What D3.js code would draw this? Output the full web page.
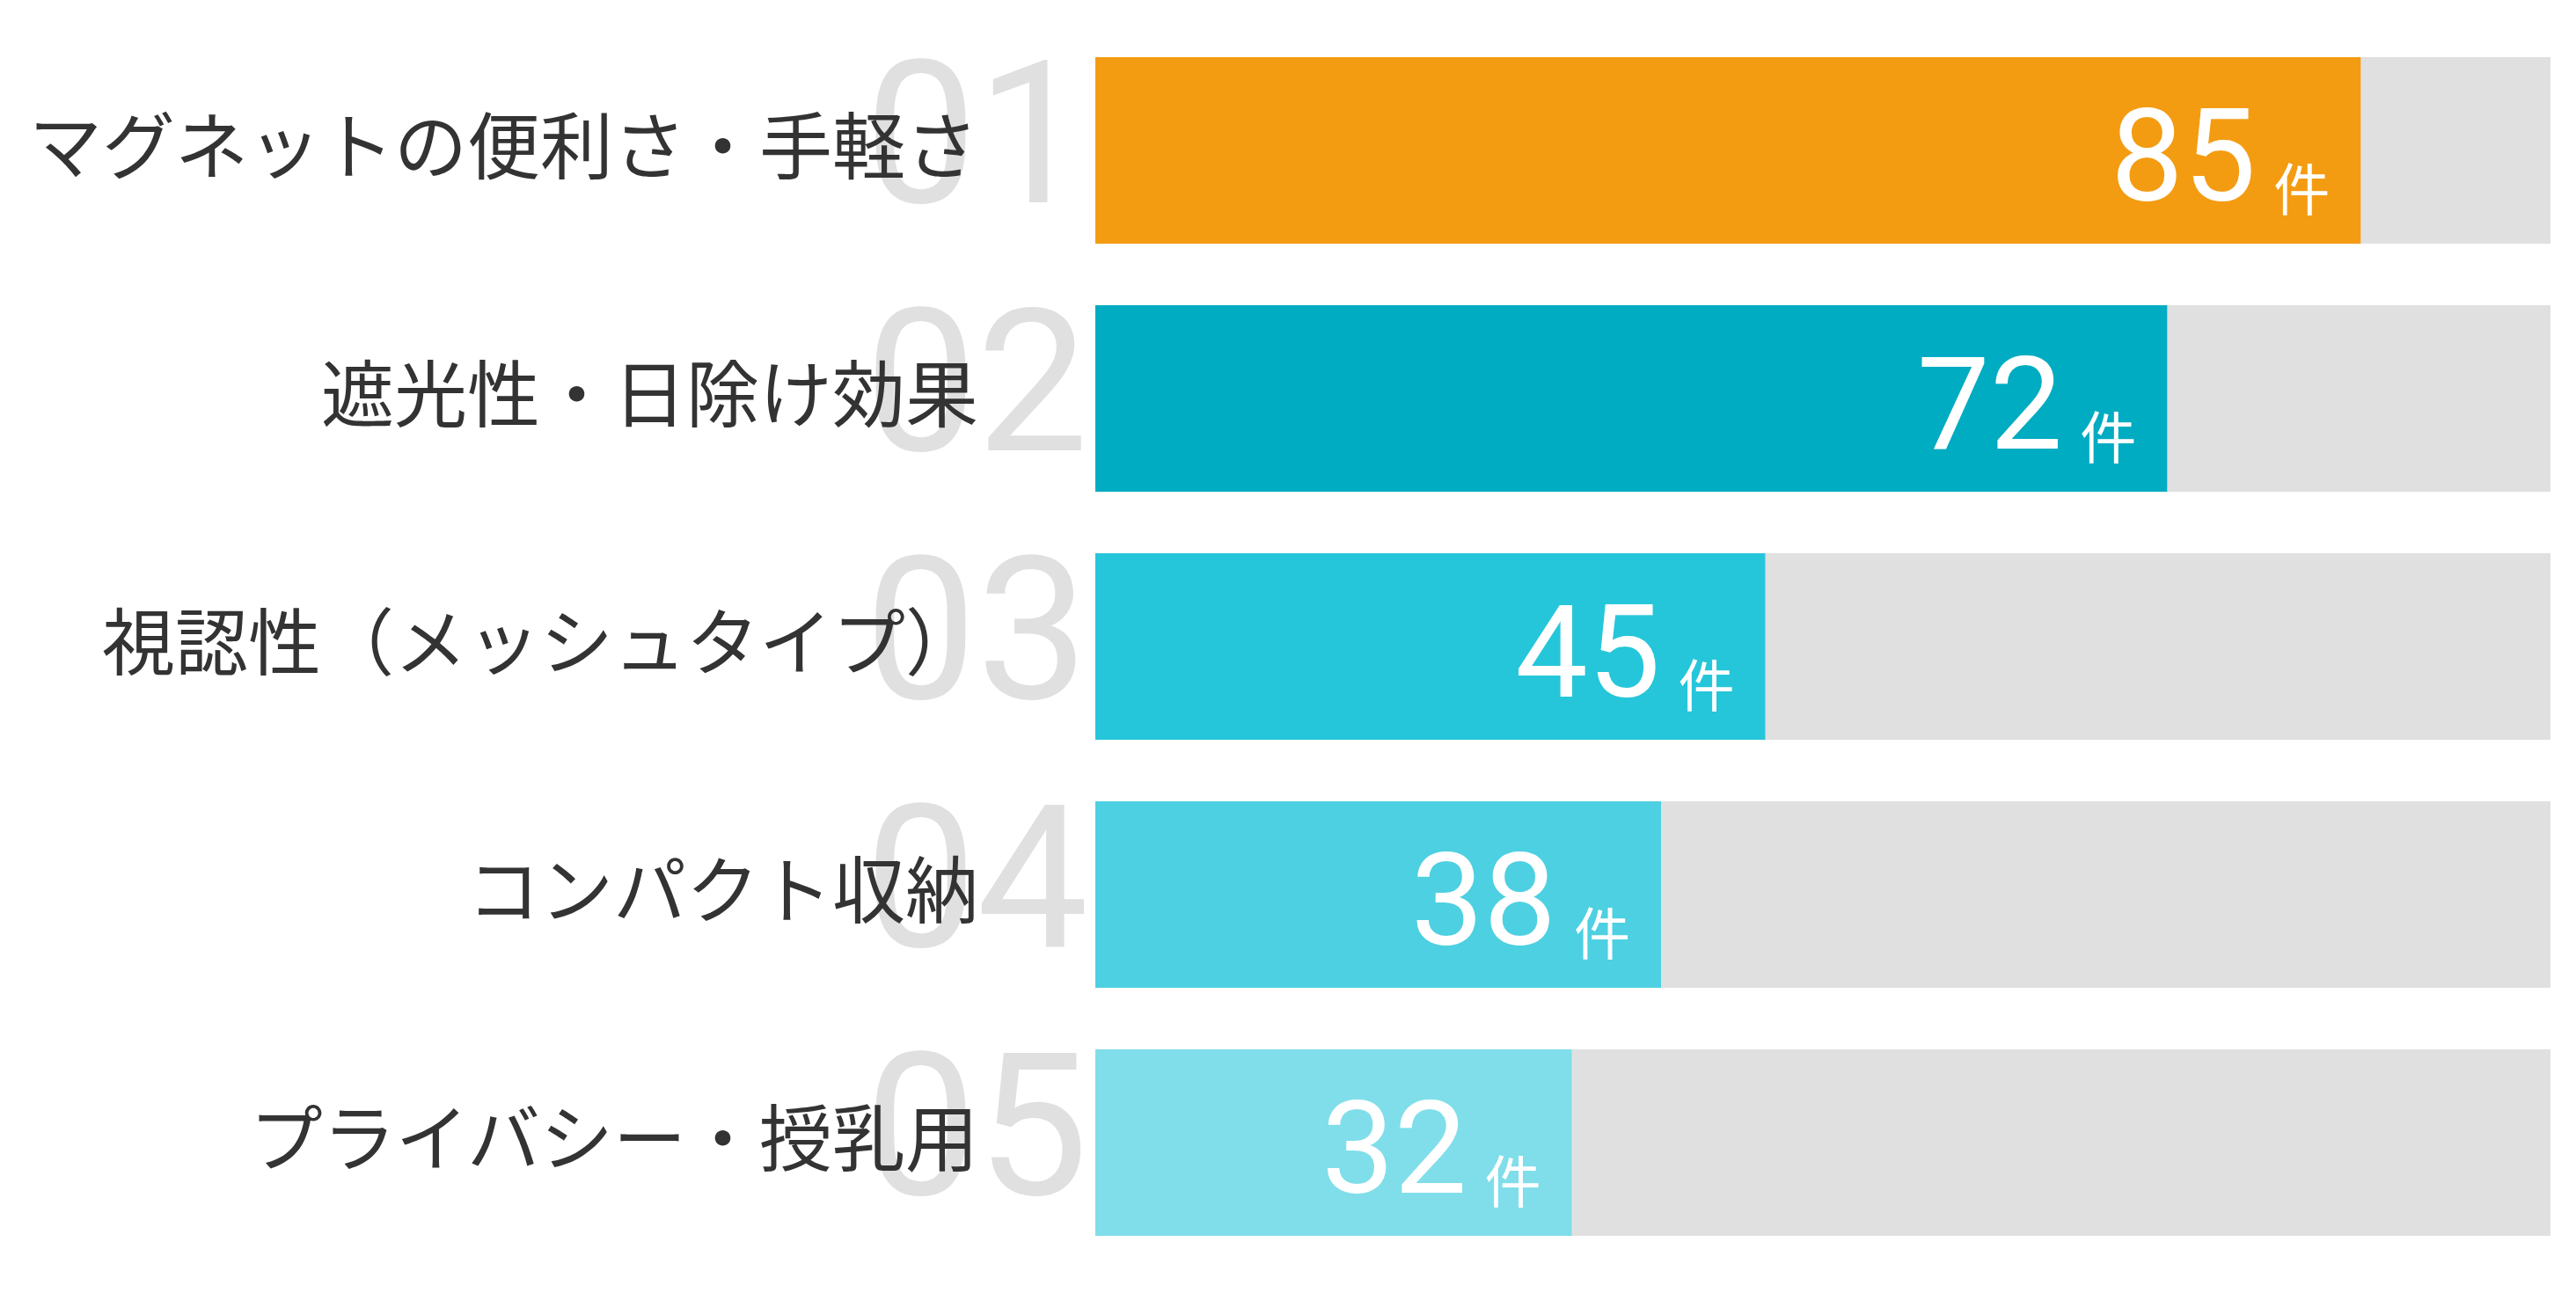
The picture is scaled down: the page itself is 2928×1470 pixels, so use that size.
<!DOCTYPE html>
<html>
<head>
<meta charset="utf-8">
<script src="https://cdn.jsdelivr.net/npm/d3@7"></script>
<style>
  html, body { margin: 0; padding: 0; background: #fff; }
  svg { display: block; }
</style>
</head>
<body>
<svg id="chart"></svg>
<script>
// chart data
const categories = ["マグネットの便利さ・手軽さ", "遮光性・日除け効果", "視認性（メッシュタイプ）", "コンパクト収納", "プライバシー・授乳用"];
const counts = [85, 72, 45, 38, 32];
const ranks = ["01", "02", "03", "04", "05"];
const barColors = ["#F39C12", "#00ACC1", "#26C6DA", "#4DD0E1", "#80DEEA"];
const unitLabel = "件";

const svgWidth = 2928,
    svgHeight = 1470;

const svg = d3.select("#chart")
    .attr("width", svgWidth)
    .attr("height", svgHeight)
    .attr("viewBox", `0 0 ${svgWidth} ${svgHeight}`);

const rows = categories.map((c, i) => ({ name: c, value: counts[i], rank: ranks[i], color: barColors[i] }));

// bars run from the rank numbers to near the right edge; track = max * 1.15
const x = d3.scaleLinear()
    .domain([0, d3.max(counts) * 1.15])
    .range([1245, 2899]);

const y = d3.scaleBand()
    .domain(categories)
    .range([30, 1440])
    .paddingInner(0.248)
    .paddingOuter(0.124);

const row = svg.selectAll(".row")
    .data(rows)
    .enter().append("g")
    .attr("class", "row");

// background track
row.append("rect")
    .attr("x", x(0))
    .attr("y", d => y(d.name))
    .attr("width", x.range()[1] - x(0))
    .attr("height", y.bandwidth())
    .attr("fill", "#E0E0E0");

// value bar
row.append("rect")
    .attr("x", x(0))
    .attr("y", d => y(d.name))
    .attr("width", d => x(d.value) - x(0))
    .attr("height", y.bandwidth())
    .attr("fill", d => d.color);

// big faded rank number behind the label
row.append("text")
    .attr("x", x(0) - 8)
    .attr("y", d => y(d.name) + 165)
    .attr("text-anchor", "end")
    .style("font-family", "Roboto, 'Noto Sans', sans-serif")
    .style("font-weight", 400)
    .style("font-size", "226px")
    .style("fill", "#E0E0E0")
    .text(d => d.rank);

// category label
row.append("text")
    .attr("x", 1112)
    .attr("y", d => y(d.name) + y.bandwidth() / 2 - 10)
    .attr("text-anchor", "end")
    .attr("dominant-baseline", "central")
    .style("font-family", "'Noto Sans CJK JP', sans-serif")
    .style("font-size", "83px")
    .style("fill", "#333333")
    .text(d => d.name);

// value label inside bar end
const val = row.append("text")
    .attr("x", d => x(d.value) - 35)
    .attr("y", d => y(d.name) + 163)
    .attr("text-anchor", "end")
    .style("fill", "#FFFFFF");

val.append("tspan")
    .style("font-family", "Roboto, 'Noto Sans', sans-serif")
    .style("font-size", "147px")
    .text(d => d.value);

val.append("tspan")
    .attr("dx", 20)
    .attr("dy", 11)
    .style("font-family", "'Noto Sans CJK JP', sans-serif")
    .style("font-size", "64px")
    .text(unitLabel);
</script>
</body>
</html>
